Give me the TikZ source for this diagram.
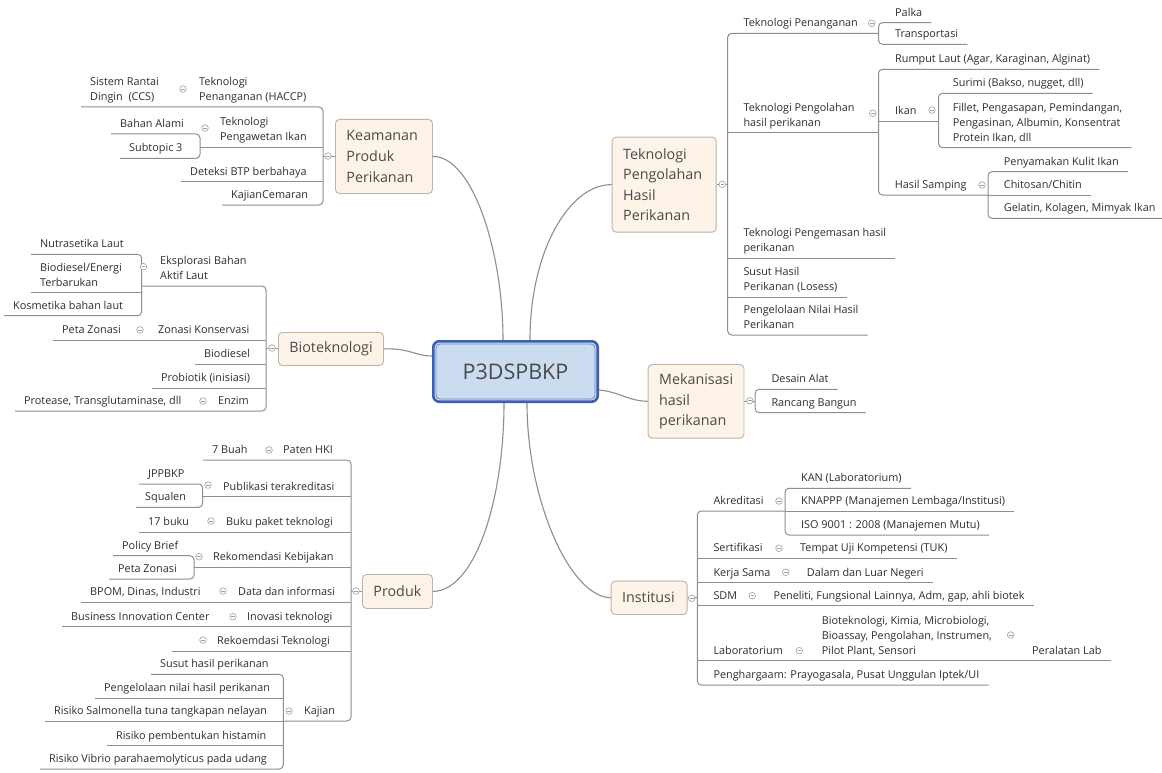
\documentclass[tikz,border=0pt]{standalone}
\usepackage{fontspec}
\setmainfont{Open Sans}
\usetikzlibrary{calc}
\definecolor{linecol}{HTML}{8E8E8E}
\definecolor{txtcol}{HTML}{2E2E2E}
\definecolor{mainfill}{HTML}{FDF3E9}
\definecolor{mainborder}{HTML}{BFB3A6}
\definecolor{maintxt}{HTML}{4A4A4A}
\definecolor{cenfill}{HTML}{CBDCF0}
\definecolor{cenborder}{HTML}{3C5FB5}
\definecolor{ceninner}{HTML}{6A88C8}
\definecolor{circcol}{HTML}{A0A0A0}
\begin{document}
\begin{tikzpicture}[x=1pt,y=-1pt,
  ul/.style={draw=linecol,line width=1pt},
  sp/.style={draw=linecol,line width=1pt,rounded corners=4pt},
  cv/.style={draw=linecol,line width=1.1pt},
  tx/.style={font=\fontsize{10.85}{14.8}\selectfont,text=txtcol,align=left,inner xsep=9pt,inner ysep=2pt,anchor=south west,execute at end node=\strut},
  mt/.style={draw=mainborder,fill=mainfill,rounded corners=4pt,line width=0.9pt,font=\fontsize{14.3}{20.6}\selectfont,text=maintxt,align=flush left,inner xsep=11pt,inner ysep=0pt,anchor=north west},
  cn/.style={draw=cenborder,line width=2.6pt,fill=cenfill,rounded corners=6pt,font=\fontsize{21.5}{24}\selectfont,text=maintxt,minimum width=164.4pt,minimum height=60.4pt,inner sep=0pt},
  cl/.style={circle,draw=circcol,fill=white,line width=0.6pt,minimum size=6.6pt,inner sep=0pt,
    path picture={\draw[draw=circcol,line width=0.6pt] ([xshift=-1.8pt]path picture bounding box.center) -- ([xshift=1.8pt]path picture bounding box.center);}}
]
\fill[white] (0,0) rectangle (1162,773);
\useasboundingbox (0,0) rectangle (1162,773);

% ---------------- central and main topics
\node[cn] (cen) at (515.5,371.5) {P3DSPBKP};
\draw[ceninner,line width=0.8pt,rounded corners=4pt] ([shift={(4,4)}]cen.north west) rectangle ([shift={(-4,-4)}]cen.south east);

\node[mt,text width=75pt,minimum height=74pt] (kbox) at (335,119) {Keamanan\\Produk\\Perikanan};
\node[mt,text width=83pt,minimum height=33pt] (bbox) at (278,332) {Bioteknologi};
\node[mt,text width=48pt,minimum height=34pt] (pbox) at (362,574) {Produk};
\node[mt,text width=82pt,minimum height=95pt] (tbox) at (611.7,136.7) {Teknologi\\Pengolahan\\Hasil\\Perikanan};
\node[mt,text width=73.8pt,minimum height=73.7pt] (mbox) at (647.7,364) {Mekanisasi\\hasil\\perikanan};
\node[mt,text width=54pt,minimum height=33.3pt] (ibox) at (610.7,580.7) {Institusi};

\draw[cv] (kbox.east) .. controls (472,156) and (503,250) .. ([xshift=-12.5pt]cen.north);
\draw[cv] ([xshift=14.5pt]cen.north) .. controls (530,250) and (570,184) .. (tbox.west);
\draw[cv] (bbox.east) .. controls (410,348) and (415,356) .. ([yshift=15.5pt]cen.west);
\draw[cv] ([yshift=-18.5pt]cen.east) .. controls (620,392) and (628,401) .. (mbox.west);
\draw[cv] (pbox.east) .. controls (475,591) and (504,500) .. ([xshift=-11.5pt]cen.south);
\draw[cv] ([xshift=11.5pt]cen.south) .. controls (527,500) and (570,597) .. (ibox.west);

% ---------------- Keamanan
\coordinate (kS) at (323,0);
\coordinate (k2S) at (200,0);
\node[tx] (kp1) at (190,107) {Teknologi\\Penanganan (HACCP)};
\node[tx] (kp1a) at (81,107) {Sistem Rantai\\Dingin\ \ (CCS)};
\node[tx] (kp2) at (211,147.3) {Teknologi\\Pengawetan Ikan};
\node[tx] (kp2a) at (111,134) {Bahan Alami};
\node[tx] (kp2b) at (120,158.3) {Subtopic 3};
\node[tx] (kp3) at (181,181.7) {Deteksi BTP berbahaya};
\node[tx] (kp4) at (222,205) {KajianCemaran};
\draw[sp] (kp1a.south west) -- (kp1a.south west -| kS) -- (kp4.south west -| kS) -- (kp4.south west);
\draw[ul] (kp2.south west -| k2S) -- (kp2.south west -| kS);
\draw[sp] (kp2a.south west) -- (kp2a.south west -| k2S) -- (kp2b.south west -| k2S) -- (kp2b.south west);
\draw[ul] (kp3.south west) -- (kp3.south west -| kS);
\draw[ul] (kbox.west) -- (kbox.west -| kS);
\node[cl] (kc0) at (328,156) {};
\node[cl] (kc1) at (183,89) {};
\node[cl] (kc2) at (205,128) {};

% ---------------- Bioteknologi
\coordinate (bS) at (266,0);
\coordinate (b1S) at (141.7,0);
\node[tx] (bt1) at (151,286) {Eksplorasi Bahan\\Aktif Laut};
\node[tx] (bt1a) at (31,254.3) {Nutrasetika Laut};
\node[tx] (bt1b) at (31,292.7) {Biodiesel/Energi\\Terbarukan};
\node[tx] (bt1c) at (4,315.7) {Kosmetika bahan laut};
\node[tx] (bt2) at (149,340) {Zonasi Konservasi};
\node[tx] (bt2a) at (53,340) {Peta Zonasi};
\node[tx] (bt3) at (195,364) {Biodiesel};
\node[tx] (bt4) at (152,388.3) {Probiotik (inisiasi)};
\node[tx] (bt5) at (209,411) {Enzim};
\node[tx] (bt5a) at (15,411) {Protease, Transglutaminase, dll};
\draw[sp] (bt1.south west -| b1S) -- (bt1.south west -| bS) -- (bt5a.south west -| bS) -- (bt5a.south west);
\draw[sp] (bt1a.south west) -- (bt1a.south west -| b1S) -- (bt1c.south west -| b1S) -- (bt1c.south west);
\draw[ul] (bt1b.south west) -- (bt1b.south west -| b1S);
\draw[ul] (bt2a.south west) -- (bt2a.south west -| bS);
\draw[ul] (bt3.south west) -- (bt3.south west -| bS);
\draw[ul] (bt4.south west) -- (bt4.south west -| bS);
\draw[ul] (bbox.west) -- (bbox.west -| bS);
\node[cl] (bc0) at (272,348) {};
\node[cl] (bc1) at (143.5,266.7) {};
\node[cl] (bc2) at (140,330) {};
\node[cl] (bc3) at (203,401) {};

% ---------------- Produk
\coordinate (pS) at (351,0);
\coordinate (p2S) at (202.7,0);
\coordinate (p4S) at (194,0);
\coordinate (p8S) at (283.3,0);
\node[tx] (pr1) at (274,460) {Paten HKI};
\node[tx] (pr1a) at (203,460) {7 Buah};
\node[tx] (pr2) at (214,496.7) {Publikasi terakreditasi};
\node[tx] (pr2a) at (139,484) {JPPBKP};
\node[tx] (pr2b) at (136,507.3) {Squalen};
\node[tx] (pr3) at (217,532.3) {Buku paket teknologi};
\node[tx] (pr3a) at (139,532.3) {17 buku};
\node[tx] (pr4) at (204,567.3) {Rekomendasi Kebijakan};
\node[tx] (pr4a) at (113,555.7) {Policy Brief};
\node[tx] (pr4b) at (109,579) {Peta Zonasi};
\node[tx] (pr5) at (229,602.3) {Data dan informasi};
\node[tx] (pr5a) at (81,602.3) {BPOM, Dinas, Industri};
\node[tx] (pr6) at (238,626.7) {Inovasi teknologi};
\node[tx] (pr6a) at (62,626.7) {Business Innovation Center};
\node[tx] (pr7) at (208,651) {Rekoemdasi Teknologi};
\coordinate (pr7e) at (172,651);
\node[tx] (pr8) at (295,721) {Kajian};
\node[tx] (pr8a) at (151,674.3) {Susut hasil perikanan};
\node[tx] (pr8b) at (95,698.3) {Pengelolaan nilai hasil perikanan};
\node[tx] (pr8c) at (45,721) {Risiko Salmonella tuna tangkapan nelayan};
\node[tx] (pr8d) at (107,745.7) {Risiko pembentukan histamin};
\node[tx] (pr8e) at (40,769) {Risiko Vibrio parahaemolyticus pada udang};
\draw[sp] (pr1a.south west) -- (pr1a.south west -| pS) -- (pr8.south west -| pS) -- (pr8.south west -| p8S);
\draw[ul] (pr2.south west -| p2S) -- (pr2.south west -| pS);
\draw[sp] (pr2a.south west) -- (pr2a.south west -| p2S) -- (pr2b.south west -| p2S) -- (pr2b.south west);
\draw[ul] (pr3a.south west) -- (pr3a.south west -| pS);
\draw[ul] (pr4.south west -| p4S) -- (pr4.south west -| pS);
\draw[sp] (pr4a.south west) -- (pr4a.south west -| p4S) -- (pr4b.south west -| p4S) -- (pr4b.south west);
\draw[ul] (pr5a.south west) -- (pr5a.south west -| pS);
\draw[ul] (pr6a.south west) -- (pr6a.south west -| pS);
\draw[ul] (pr7e) -- (pr7e -| pS);
\draw[sp] (pr8a.south west) -- (pr8a.south west -| p8S) -- (pr8e.south west -| p8S) -- (pr8e.south west);
\draw[ul] (pr8b.south west) -- (pr8b.south west -| p8S);
\draw[ul] (pr8c.south west) -- (pr8c.south west -| p8S);
\draw[ul] (pr8d.south west) -- (pr8d.south west -| p8S);
\draw[ul] (pbox.west) -- (pbox.west -| pS);
\node[cl] (pc0) at (356,591) {};
\node[cl] (pc1) at (269,450) {};
\node[cl] (pc2) at (208,485) {};
\node[cl] (pc3) at (211,521) {};
\node[cl] (pc4) at (199,556.7) {};
\node[cl] (pc5) at (223,591) {};
\node[cl] (pc6) at (233,616.7) {};
\node[cl] (pc7) at (203,640) {};
\node[cl] (pc8) at (289,711) {};

% ---------------- Teknologi Pengolahan
\coordinate (tS) at (727.7,0);
\coordinate (t1S) at (878.5,0);
\coordinate (t2bS) at (938.5,0);
\coordinate (t2cS) at (988,0);
\node[tx] (tk1) at (734.3,33.3) {Teknologi Penanganan};
\node[tx] (tk1a) at (886,22.7) {Palka};
\node[tx] (tk1b) at (886,44.3) {Transportasi};
\node[tx] (tk2) at (734.3,132.7) {Teknologi Pengolahan\\hasil perikanan};
\node[tx] (tk2a) at (886,69.3) {Rumput Laut (Agar, Karaginan, Alginat)};
\node[tx] (tk2b) at (886,121.3) {Ikan};
\node[tx] (tk2b1) at (943.7,93.3) {Surimi (Bakso, nugget, dll)};
\node[tx] (tk2b2) at (943.7,147.7) {Fillet, Pengasapan, Pemindangan,\\Pengasinan, Albumin, Konsentrat\\Protein Ikan, dll};
\node[tx] (tk2c) at (885.7,195) {Hasil Samping};
\node[tx] (tk2c1) at (994.7,171.7) {Penyamakan Kulit Ikan};
\node[tx] (tk2c2) at (994.7,195) {Chitosan/Chitin};
\node[tx] (tk2c3) at (994.7,218.3) {Gelatin, Kolagen, Mimyak Ikan};
\node[tx] (tk3) at (734.3,258.3) {Teknologi Pengemasan hasil\\perikanan};
\node[tx] (tk4) at (734.3,297.3) {Susut Hasil\\Perikanan (Losess)};
\node[tx] (tk5) at (734.3,335) {Pengelolaan Nilai Hasil\\Perikanan};
\draw[sp] (tk1.south west -| t1S) -- (tk1.south west -| tS) -- (tk5.south east -| tS) -- (tk5.south east);
\draw[sp] (tk1a.south east) -- (tk1a.south east -| t1S) -- (tk1b.south east -| t1S) -- (tk1b.south east);
\draw[ul] (tk2.south east -| tS) -- (tk2.south east -| t1S);
\draw[sp] (tk2a.south east) -- (tk2a.south east -| t1S) -- (tk2c.south east -| t1S) -- (tk2c.south east -| t2cS);
\draw[ul] (tk2b.south east -| t1S) -- (tk2b.south east -| t2bS);
\draw[sp] (tk2b1.south east) -- (tk2b1.south east -| t2bS) -- (tk2b2.south east -| t2bS) -- (tk2b2.south east);
\draw[sp] (tk2c1.south east) -- (tk2c1.south east -| t2cS) -- (tk2c3.south east -| t2cS) -- (tk2c3.south east);
\draw[ul] (tk2c2.south east -| t2cS) -- (tk2c2.south east);
\draw[ul] (tk3.south east -| tS) -- (tk3.south east);
\draw[ul] (tk4.south east -| tS) -- (tk4.south east);
\draw[ul] (tbox.east) -- (tbox.east -| tS);
\node[cl] (tc0) at (722.3,184.3) {};
\node[cl] (tc1) at (871.7,23.3) {};
\node[cl] (tc2) at (872.7,113.3) {};
\node[cl] (tc3) at (932,110) {};
\node[cl] (tc4) at (982,185) {};

% ---------------- Mekanisasi
\coordinate (mS) at (755.2,0);
\node[tx] (mk1) at (762.3,389.3) {Desain Alat};
\node[tx] (mk2) at (762.3,412.7) {Rancang Bangun};
\draw[sp] (mk1.south east) -- (mk1.south east -| mS) -- (mk2.south east -| mS) -- (mk2.south east);
\draw[ul] (mbox.east) -- (mbox.east -| mS);
\node[cl] (mc0) at (749.8,400.7) {};

% ---------------- Institusi
\coordinate (iS) at (697.3,0);
\coordinate (i1S) at (785,0);
\node[tx] (in1) at (704.3,511) {Akreditasi};
\node[tx] (in1a) at (792,488.3) {KAN (Laboratorium)};
\node[tx] (in1b) at (792,511) {KNAPPP (Manajemen Lembaga/Institusi)};
\node[tx] (in1c) at (792,535) {ISO 9001 : 2008 (Manajemen Mutu)};
\node[tx] (in2) at (704.3,558.3) {Sertifikasi};
\node[tx] (in2a) at (791,558.3) {Tempat Uji Kompetensi (TUK)};
\node[tx] (in3) at (704.3,582.7) {Kerja Sama};
\node[tx] (in3a) at (797.7,582.7) {Dalam dan Luar Negeri};
\node[tx] (in4) at (704.3,605.7) {SDM};
\node[tx] (in4a) at (764.3,605.7) {Peneliti, Fungsional Lainnya, Adm, gap, ahli biotek};
\node[tx] (in5) at (704.3,660.7) {Laboratorium};
\node[tx] (in5a) at (812.7,660.7) {Bioteknologi, Kimia, Microbiologi,\\Bioassay, Pengolahan, Instrumen,\\Pilot Plant, Sensori};
\node[tx] (in5b) at (1023,660.7) {Peralatan Lab};
\node[tx] (in6) at (704.3,685) {Penghargaam: Prayogasala, Pusat Unggulan Iptek/UI};
\draw[sp] (in1.south west -| i1S) -- (in1.south west -| iS) -- (in6.south east -| iS) -- (in6.south east);
\draw[sp] (in1a.south east) -- (in1a.south east -| i1S) -- (in1c.south east -| i1S) -- (in1c.south east);
\draw[ul] (in1b.south east -| i1S) -- (in1b.south east);
\draw[ul] (in2.south west -| iS) -- (in2a.south east);
\draw[ul] (in3.south west -| iS) -- (in3a.south east);
\draw[ul] (in4.south west -| iS) -- (in4a.south east);
\draw[ul] (in5.south west -| iS) -- (in5b.south east);
\draw[ul] (ibox.east) -- (ibox.east -| iS);
\node[cl] (ic0) at (691.7,598.3) {};
\node[cl] (ic1) at (779,501) {};
\node[cl] (ic2) at (779,548.3) {};
\node[cl] (ic3) at (785.7,572.3) {};
\node[cl] (ic4) at (752.3,595.7) {};
\node[cl] (ic5) at (799.3,650.7) {};
\node[cl] (ic6) at (1010.7,635) {};
\end{tikzpicture}
\end{document}
